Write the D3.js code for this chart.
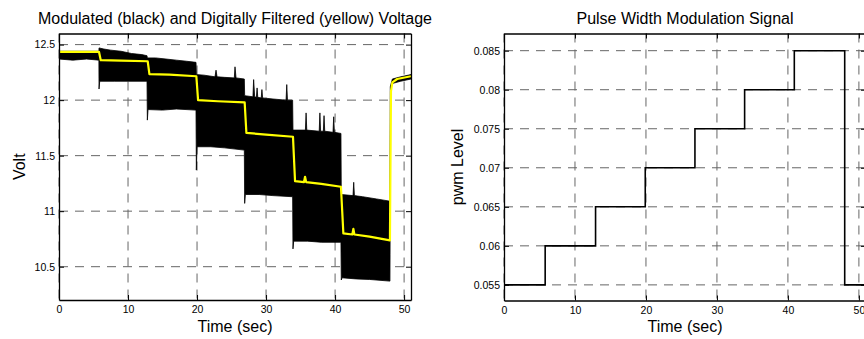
<!DOCTYPE html>
<html>
<head>
<meta charset="utf-8">
<script src="https://cdn.jsdelivr.net/npm/d3@7"></script>
<style>
  html, body { margin: 0; padding: 0; background: #fff; }
  svg { display: block; font-family: "Liberation Sans", Arial, sans-serif; }
</style>
</head>
<body>
<svg id="fig" width="864" height="339"></svg>
<script>
// ---- Left panel: modulated battery voltage (envelope of the PWM ripple) ----
// Upper edge of the black ripple band [time, volt]
const bandUpper = [
  [0, 12.44], [5.78, 12.44], [5.8, 12.47], [6.5, 12.46], [7.5, 12.45], [9, 12.44], [10.5, 12.42], [12, 12.41], [12.75, 12.40],
  [12.8, 12.38], [14, 12.38], [15.5, 12.37], [17, 12.36], [18.5, 12.35], [19.85, 12.34],
  [19.9, 12.23], [21, 12.225], [22.6, 12.21], [22.75, 12.27], [22.9, 12.21], [24, 12.205], [25.4, 12.2], [25.5, 12.30], [25.65, 12.2], [26.85, 12.19],
  [26.9, 12.04], [28.1, 12.03], [28.2, 12.185], [28.35, 12.03], [28.6, 12.025], [28.7, 12.11], [28.8, 12.025], [29.3, 12.02], [29.4, 12.095], [29.5, 12.02], [31, 12.01], [32.9, 12.0], [33.0, 12.14], [33.1, 12.0], [33.85, 12.0],
  [33.9, 11.73], [35.7, 11.73], [35.8, 11.885], [35.9, 11.73], [37.7, 11.72], [37.8, 11.885], [37.9, 11.72], [38.3, 11.72], [38.4, 11.86], [38.5, 11.72], [39.7, 11.71], [39.8, 11.85], [39.9, 11.71], [40.85, 11.70],
  [40.9, 11.15], [42.6, 11.14], [42.7, 11.26], [42.8, 11.14], [44, 11.13], [46, 11.11], [47.95, 11.09],
  [48.0, 12.12], [48.3, 12.19], [49.5, 12.21], [51, 12.23]
];
// Lower edge of the black ripple band [time, volt]
const bandLower = [
  [0, 12.37], [2, 12.36], [4, 12.37], [5.78, 12.36], [5.8, 12.10], [5.9, 12.17], [8, 12.17], [10, 12.17], [12.75, 12.17],
  [12.8, 11.82], [12.9, 11.915], [15, 11.91], [17, 11.92], [19.85, 11.91],
  [19.9, 11.37], [20.0, 11.58], [22, 11.58], [24, 11.57], [26.85, 11.55],
  [26.9, 11.07], [27.0, 11.15], [29, 11.15], [31, 11.14], [33.85, 11.13],
  [33.9, 10.66], [34.0, 10.73], [36, 10.73], [38, 10.72], [40.85, 10.72],
  [40.9, 10.38], [41.0, 10.40], [43, 10.39], [45, 10.385], [47.95, 10.37],
  [48.05, 12.12], [48.3, 12.15], [49.5, 12.17], [51, 12.19]
];
// Digitally filtered voltage (yellow trace) [time, volt]
const filtered = [
  [0, 12.434], [5.8, 12.434], [6.05, 12.36], [9, 12.356], [12.85, 12.35],
  [13.1, 12.235], [16, 12.23], [19.9, 12.215],
  [20.15, 12.0], [23, 11.99], [26.9, 11.98],
  [27.15, 11.705], [30, 11.69], [33.9, 11.67],
  [34.2, 11.27], [35.5, 11.262], [35.65, 11.31], [35.8, 11.262], [38, 11.245], [40.85, 11.22],
  [41.2, 10.80], [42.5, 10.79], [42.65, 10.84], [42.8, 10.79], [45, 10.77], [47.95, 10.737],
  [48.1, 12.08], [48.3, 12.16], [49, 12.19], [51, 12.215]
];
const voltTicks = [10.5, 11, 11.5, 12, 12.5];
const voltTickLabels = ["10.5", "11", "11.5", "12", "12.5"];

// ---- Right panel: PWM duty level per time step ----
const pwmTime  = [0, 5.8, 12.9, 19.9, 26.9, 33.9, 40.9, 48.0, 51];
const pwmLevel = [0.055, 0.06, 0.065, 0.07, 0.075, 0.08, 0.085, 0.055, 0.055];
const pwmTicks = [0.055, 0.06, 0.065, 0.07, 0.075, 0.08, 0.085];
const pwmTickLabels = ["0.055", "0.06", "0.065", "0.07", "0.075", "0.08", "0.085"];

const timeTicks = [0, 10, 20, 30, 40, 50];
const timeTickLabels = ["0", "10", "20", "30", "40", "50"];

const svg = d3.select("#fig");

function panel(opts) {
  const { id, x0, x1, y0, y1, xDomain, yDomain, yTicks, yLabels, title, ylabel, ylabelX } = opts;
  const x = d3.scaleLinear().domain(xDomain).range([x0, x1]);
  const y = d3.scaleLinear().domain(yDomain).range([y1, y0]);
  const g = svg.append("g");

  g.append("clipPath").attr("id", id).append("rect")
    .attr("x", x0).attr("y", y0).attr("width", x1 - x0).attr("height", y1 - y0);

  // dashed grid
  const grid = g.append("g").attr("stroke", "#666").attr("stroke-width", 1)
    .attr("stroke-dasharray", "9,7").attr("fill", "none");
  timeTicks.forEach(t => {
    grid.append("line").attr("x1", x(t)).attr("x2", x(t)).attr("y1", y0).attr("y2", y1);
  });
  yTicks.forEach(v => {
    grid.append("line").attr("x1", x0).attr("x2", x1).attr("y1", y(v)).attr("y2", y(v));
  });

  const data = g.append("g").attr("clip-path", `url(#${id})`);

  // axes: bottom/left with labels, top/right mirrored, ticks pointing inward
  const axB = d3.axisBottom(x).tickValues(timeTicks).tickFormat((d, i) => timeTickLabels[i]).tickSizeInner(-5).tickSizeOuter(0).tickPadding(6);
  const axT = d3.axisTop(x).tickValues(timeTicks).tickFormat("").tickSizeInner(-5).tickSizeOuter(0);
  const axL = d3.axisLeft(y).tickValues(yTicks).tickFormat((d, i) => yLabels[i]).tickSizeInner(-5).tickSizeOuter(0).tickPadding(4);
  const axR = d3.axisRight(y).tickValues(yTicks).tickFormat("").tickSizeInner(-5).tickSizeOuter(0);

  const axes = g.append("g");
  axes.append("g").attr("transform", `translate(0,${y1})`).call(axB);
  axes.append("g").attr("transform", `translate(0,${y0})`).call(axT);
  axes.append("g").attr("transform", `translate(${x0},0)`).call(axL);
  axes.append("g").attr("transform", `translate(${x1},0)`).call(axR);
  axes.selectAll(".domain").attr("stroke", "#000").attr("stroke-width", 1.3);
  axes.selectAll(".tick line").attr("stroke", "#000").attr("stroke-width", 1);
  axes.selectAll(".tick text").attr("font-size", 10.5).attr("fill", "#000")
    .attr("font-family", "'Liberation Sans', Arial, sans-serif");

  g.append("text").attr("x", (x0 + Math.min(x1, 866)) / 2).attr("y", 23.5)
    .attr("text-anchor", "middle").attr("font-size", 16).text(title);
  g.append("text").attr("x", (x0 + x1) / 2).attr("y", 332)
    .attr("text-anchor", "middle").attr("font-size", 16).text("Time (sec)");
  g.append("text")
    .attr("transform", `translate(${ylabelX},${(y0 + y1) / 2}) rotate(-90)`)
    .attr("text-anchor", "middle").attr("font-size", 16).text(ylabel);

  return { x, y, data, axes };
}

// Left panel
const L = panel({
  id: "clipL", x0: 59, x1: 411, y0: 33.5, y1: 300,
  xDomain: [0, 51], yDomain: [10.2, 12.6],
  yTicks: voltTicks, yLabels: voltTickLabels,
  title: "Modulated (black) and Digitally Filtered (yellow) Voltage",
  ylabel: "Volt", ylabelX: 25
});
const bandPoly = bandUpper.concat(bandLower.slice().reverse());
L.data.append("path")
  .attr("d", d3.line().x(d => L.x(d[0])).y(d => L.y(d[1]))(bandPoly) + "Z")
  .attr("fill", "#000").attr("stroke", "#000").attr("stroke-width", 0.8);
L.data.append("path")
  .attr("d", d3.line().x(d => L.x(d[0])).y(d => L.y(d[1]))(filtered))
  .attr("fill", "none").attr("stroke", "#ffff00").attr("stroke-width", 2.2)
  .attr("stroke-linejoin", "round");

// Right panel
const R = panel({
  id: "clipR", x0: 504, x1: 866, y0: 33.5, y1: 300.5,
  xDomain: [0, 51], yDomain: [0.053, 0.0872],
  yTicks: pwmTicks, yLabels: pwmTickLabels,
  title: "Pulse Width Modulation Signal",
  ylabel: "pwm Level", ylabelX: 463
});
const pwmPts = pwmTime.map((t, i) => [t, pwmLevel[i]]);
R.data.append("path")
  .attr("d", d3.line().curve(d3.curveStepAfter).x(d => R.x(d[0])).y(d => R.y(d[1]))(pwmPts))
  .attr("fill", "none").attr("stroke", "#000").attr("stroke-width", 1.6);

// frames drawn last so they sit over the data
L.axes.raise();
R.axes.raise();
</script>
</body>
</html>
